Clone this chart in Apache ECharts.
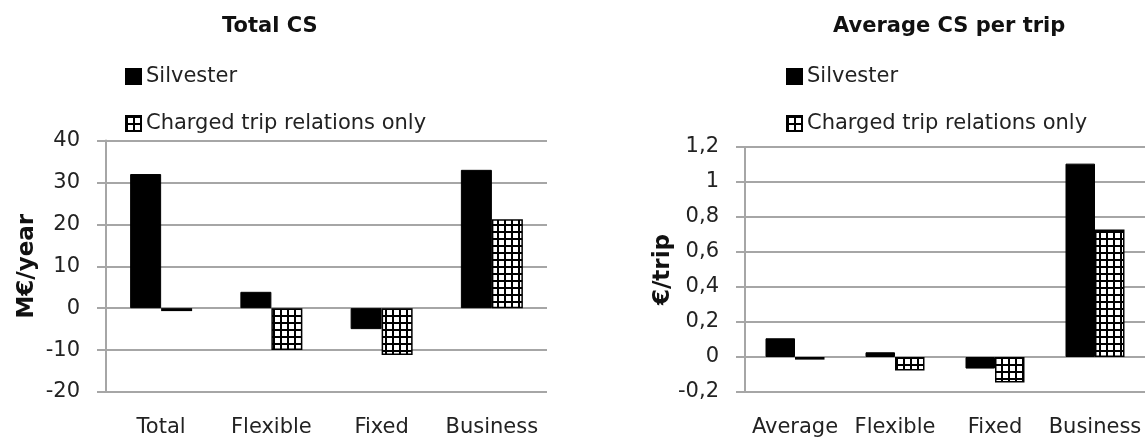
<!DOCTYPE html>
<html>
<head>
<meta charset="utf-8">
<script src="https://cdn.jsdelivr.net/npm/echarts@6/dist/echarts.min.js"></script>
<style>
html,body{margin:0;padding:0;background:#fff;}
#chart{width:1145px;height:438px;}
</style>
</head>
<body>
<div id="chart"></div>
<script>
// ---- data ----
const seriesNames = ['Silvester', 'Charged trip relations only'];
const totalCategories = ['Total', 'Flexible', 'Fixed', 'Business'];
const totalSilvester = [32, 3.9, -5, 33];
const totalCharged = [-0.7, -10, -11.2, 21.2];
const avgCategories = ['Average', 'Flexible', 'Fixed', 'Business'];
const avgSilvester = [0.107, 0.027, -0.066, 1.105];
const avgCharged = [-0.015, -0.077, -0.145, 0.728];
const titles = ['Total CS', 'Average CS per trip'];
const axisNames = ['M€/year', '€/trip'];

// ---- pattern ----
const pc = document.createElement('canvas');
pc.width = 7; pc.height = 7;
const ctx = pc.getContext('2d');
ctx.fillStyle = '#ffffff'; ctx.fillRect(0, 0, 7, 7);
ctx.fillStyle = '#000000';
ctx.fillRect(0, 0, 7, 2);
ctx.fillRect(0, 0, 2, 7);
const gridPattern = { image: pc, repeat: 'repeat' };

const FONT = 'DejaVu Sans';
const gridColor = '#a6a6a6';
const labelColor = '#222222';

const chart = echarts.init(document.getElementById('chart'), null, { renderer: 'canvas' });

function commaFmt(v) {
  const r = Math.round(v * 10) / 10;
  return String(r).replace('.', ',');
}

function valueAxis(gridIndex, min, max, interval, name, nameGap, fmt) {
  return {
    type: 'value', gridIndex, min, max, interval,
    name, nameLocation: 'middle', nameGap,
    nameTextStyle: { fontFamily: FONT, fontSize: 23, fontWeight: 'bold', color: '#111' },
    axisLine: { show: true, lineStyle: { color: gridColor, width: 2 } },
    axisTick: { show: true, length: 9, lineStyle: { color: gridColor, width: 2 } },
    axisLabel: { fontFamily: FONT, fontSize: 21, color: labelColor, margin: 26, formatter: fmt },
    splitLine: { show: true, lineStyle: { color: gridColor, width: 2 } }
  };
}

function catAxis(gridIndex, data) {
  return {
    type: 'category', gridIndex, data,
    axisLine: { show: false, onZero: false },
    axisTick: { show: false },
    axisLabel: { fontFamily: FONT, fontSize: 21, color: labelColor, margin: 25, interval: 0 },
    splitLine: { show: false }
  };
}

const silvesterStyle = { color: '#000000', borderColor: '#000000', borderWidth: 1 };
const chargedStyle = { color: gridPattern, borderColor: '#000000', borderWidth: 1.5 };

const legendText = { fontFamily: FONT, fontSize: 21, color: labelColor, lineHeight: 15 };
const titleText = { fontFamily: FONT, fontSize: 21, fontWeight: 'bold', color: '#111' };

const option = {
  backgroundColor: '#ffffff',
  animation: false,
  title: [
    { text: titles[0], left: 222, top: 16, padding: 0, textStyle: titleText },
    { text: titles[1], left: 833, top: 16, padding: 0, textStyle: titleText }
  ],
  legend: [
    { data: seriesNames, orient: 'vertical', left: 125, top: 66, itemWidth: 15, itemHeight: 15,
      itemGap: 26, itemTextGap: 3, padding: 0, icon: 'rect', textStyle: legendText },
    { data: seriesNames, orient: 'vertical', left: 786, top: 66, itemWidth: 15, itemHeight: 15,
      itemGap: 26, itemTextGap: 3, padding: 0, icon: 'rect', textStyle: legendText }
  ],
  grid: [
    { left: 106, top: 140.5, width: 441, height: 254 },
    { left: 745, top: 147, right: 0, height: 245.5 }
  ],
  xAxis: [
    catAxis(0, totalCategories),
    catAxis(1, avgCategories)
  ],
  yAxis: [
    valueAxis(0, -20, 40, 10, axisNames[0], 67, null),
    valueAxis(1, -0.2, 1.2, 0.2, axisNames[1], 63, commaFmt)
  ],
  series: [
    { name: seriesNames[0], type: 'bar', xAxisIndex: 0, yAxisIndex: 0, data: totalSilvester,
      barWidth: 31, barGap: '0%', itemStyle: silvesterStyle },
    { name: seriesNames[1], type: 'bar', xAxisIndex: 0, yAxisIndex: 0, data: totalCharged,
      barWidth: 31, barGap: '0%', itemStyle: chargedStyle },
    { name: seriesNames[0], type: 'bar', xAxisIndex: 1, yAxisIndex: 1, data: avgSilvester,
      barWidth: 29.5, barGap: '0%', itemStyle: silvesterStyle },
    { name: seriesNames[1], type: 'bar', xAxisIndex: 1, yAxisIndex: 1, data: avgCharged,
      barWidth: 29.5, barGap: '0%', itemStyle: chargedStyle }
  ]
};
chart.setOption(option);
</script>
</body>
</html>
